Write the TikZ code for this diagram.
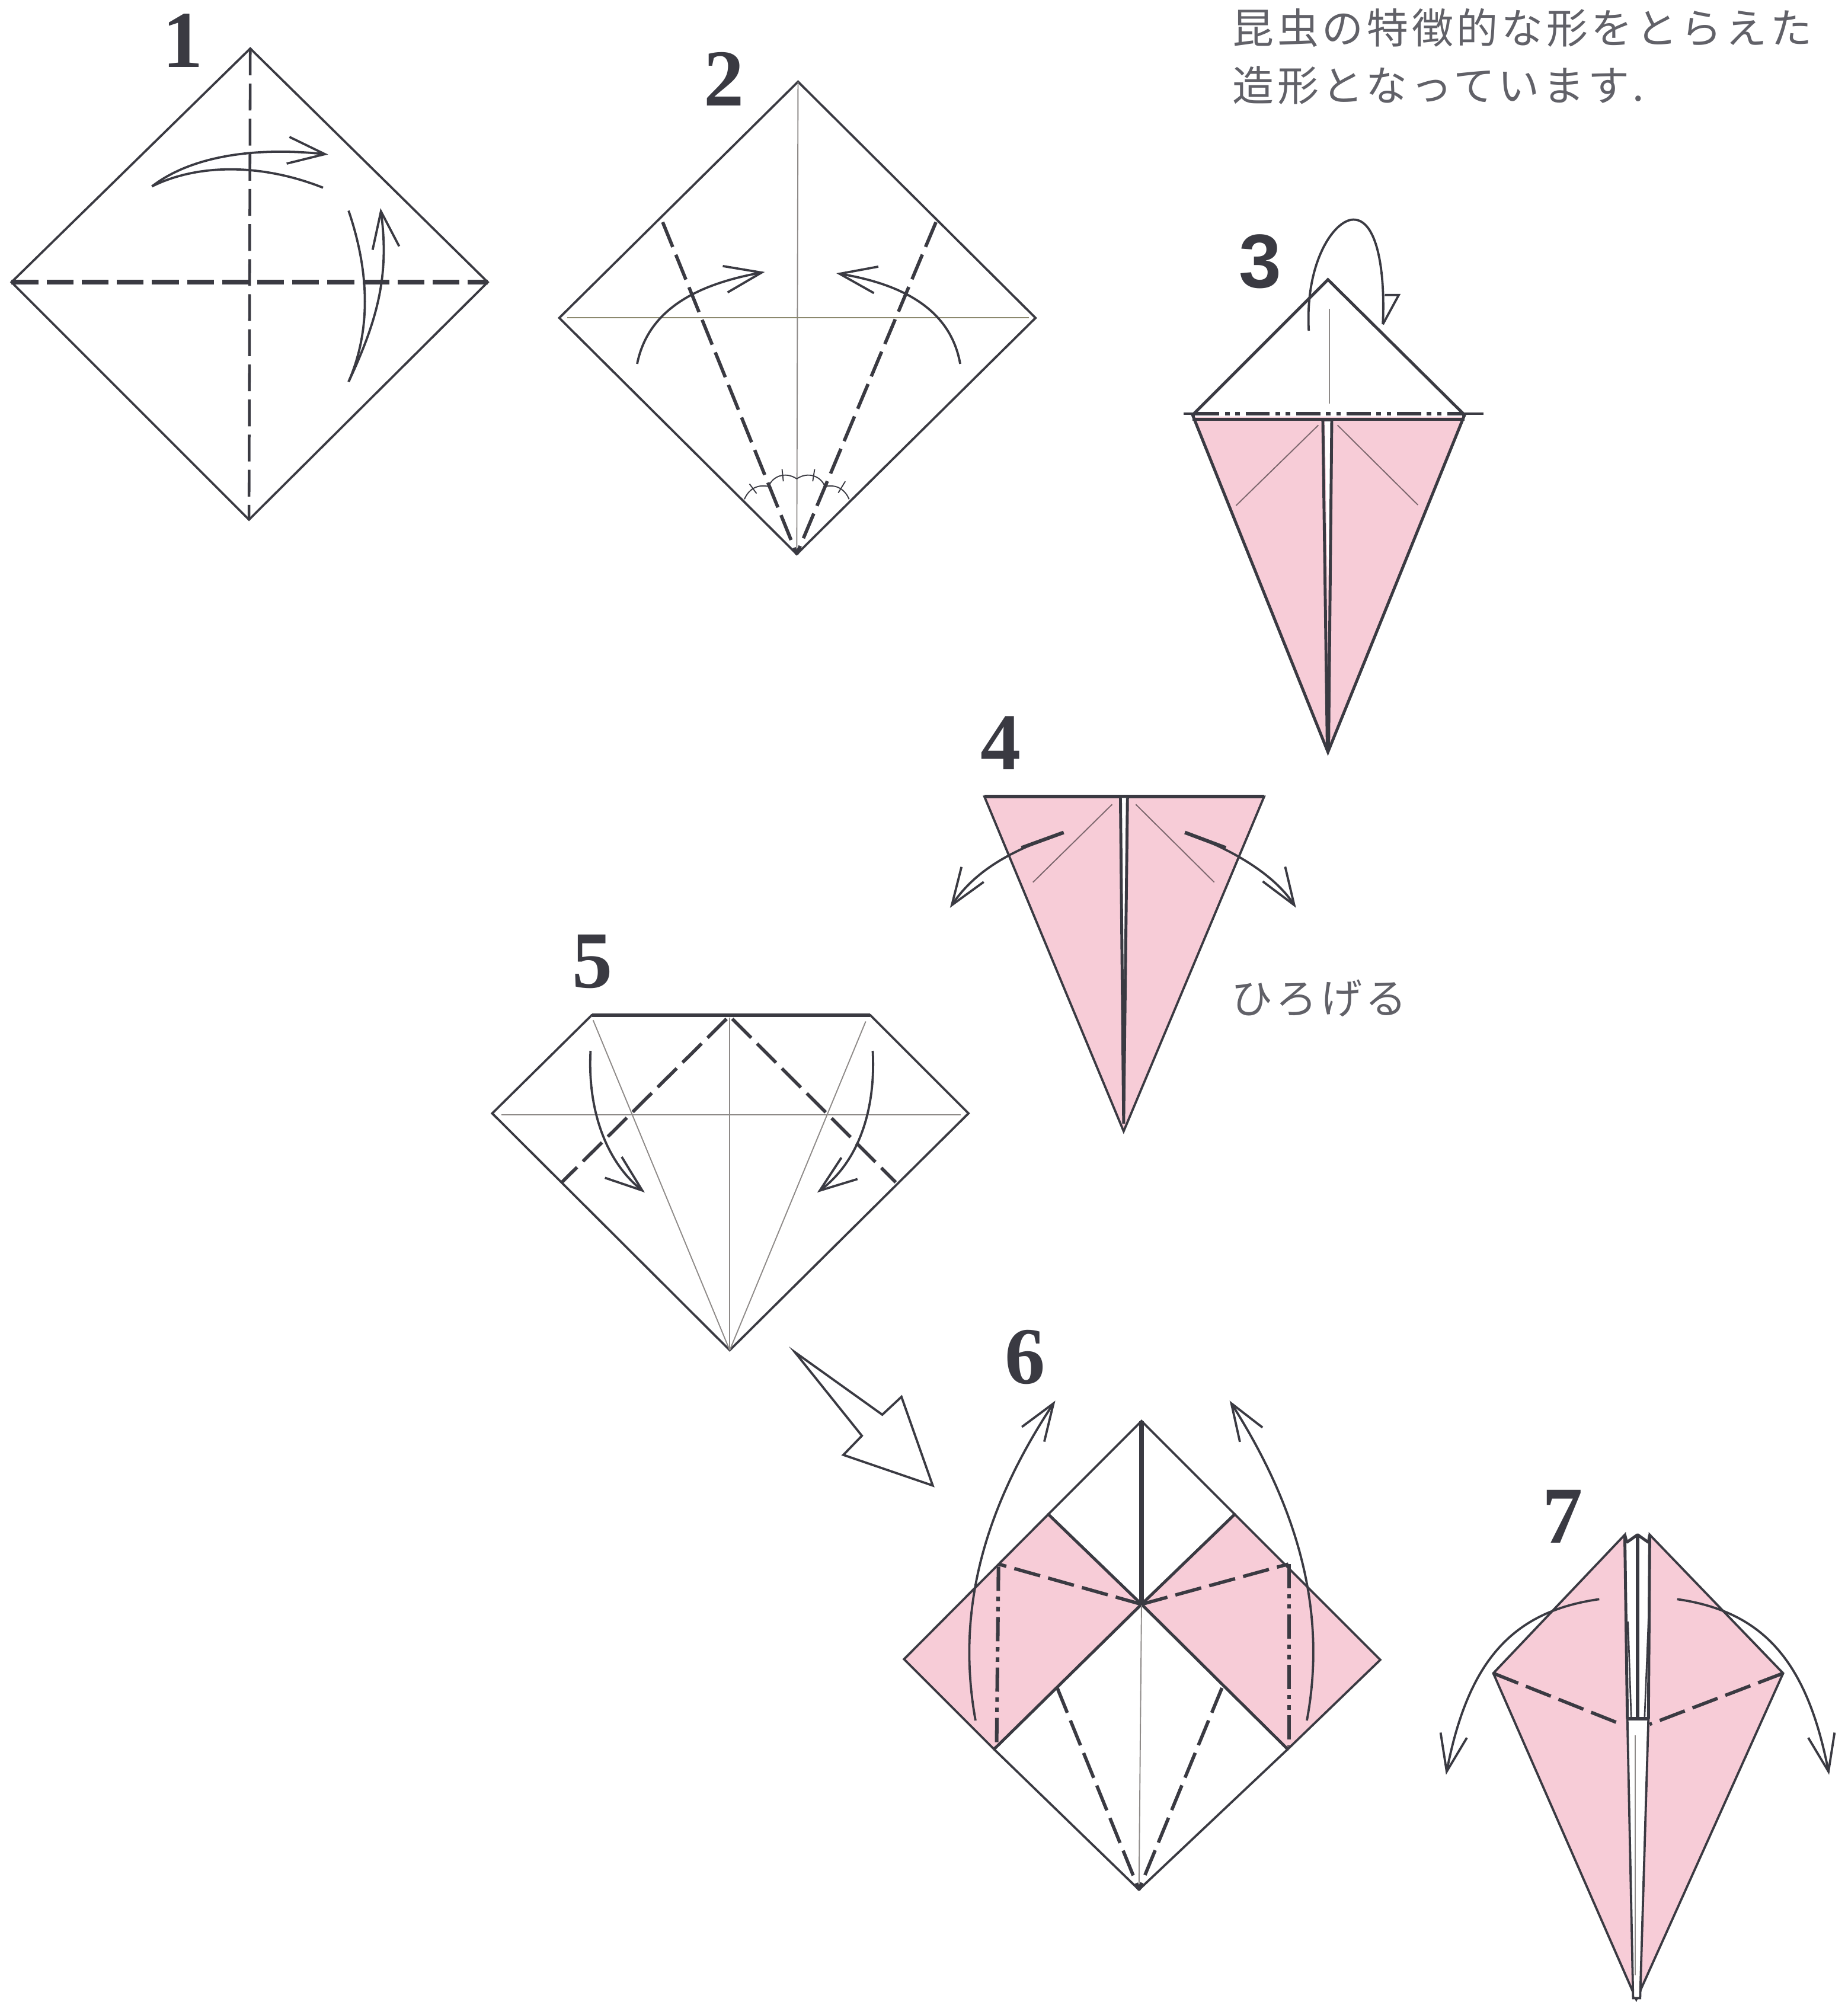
\documentclass[tikz,border=0pt]{standalone}
\usepackage{fontspec}
\usepackage{xcolor}
\usepackage{tikz}
\usetikzlibrary{arrows.meta,calc}
\setmainfont{Liberation Serif}
\newfontfamily\cjkfont[LetterSpace=8]{Noto Sans CJK JP}
\definecolor{inkline}{HTML}{3A3A42}
\definecolor{paperpink}{HTML}{F7CCD7}
\definecolor{creasegray}{HTML}{8E8A88}
\tikzset{%
  edge/.style={draw=inkline,line width=1pt,line join=miter},
  pinkface/.style={edge,fill=paperpink},
  thickline/.style={draw=inkline,line width=2pt},
  crease/.style={draw=creasegray,line width=0.5pt},
  valley/.style={draw=inkline,line width=1.5pt,dash pattern=on 0.42cm off 0.13cm},
  mountain/.style={draw=inkline,line width=1.6pt,dash pattern=on 0.38cm off 0.09cm on 0.07cm off 0.09cm on 0.07cm off 0.09cm},
  foldarrow/.style={draw=inkline,line width=1pt,-{Straight Barb[length=5.8mm,width=4.2mm,line width=1pt]}},
  returnline/.style={draw=inkline,line width=1pt},
  stepnum/.style={text=inkline,font=\fontsize{36}{36}\selectfont\bfseries,inner sep=0pt},
  caption/.style={text=inkline!80,font=\fontsize{18.5}{20}\cjkfont,inner sep=0pt,anchor=west}
}
\begin{document}
\begin{tikzpicture}[x=0.02cm,y=-0.02cm]
\useasboundingbox (0,0) rectangle (1447,1568);

% Step numbers
\node[stepnum] (numone) at (143,32) {1};
\node[stepnum] (numtwo) at (567,62) {2};
\node[stepnum,font=\fontsize{34}{34}\selectfont\sffamily\bfseries] (numthree) at (987,205) {\fontspec{Liberation Sans}3};
\node[stepnum] (numfour) at (784,582) {4};
\node[stepnum] (numfive) at (464,753) {5};
\node[stepnum] (numsix) at (803,1063) {6};
\node[stepnum] (numseven) at (1224,1188) {7};

% Captions
\node[caption] (capone) at (965,22) {昆虫の特徴的な形をとらえた};
\node[caption] (captwo) at (965,67) {造形となっています.};
\node[caption,anchor=center] (capopen) at (1033,782) {ひろげる};

% Step 1
\coordinate (a1) at (196,38);
\coordinate (a2) at (9,221);
\coordinate (a3) at (195,407);
\coordinate (a4) at (382,221);
\draw[edge] (a1) -- (a2) -- (a3) -- (a4) -- cycle;
\draw[valley,line width=1.2pt] (a1) -- (a3);
\draw[valley,line width=2pt] (a2) -- (a4);
\draw[foldarrow] (119,146) .. controls (150,122) and (200,115) .. (257,121);
\draw[returnline] (119,146) .. controls (155,128) and (205,128) .. (253,147);
\draw[foldarrow] (273,299) .. controls (296,250) and (305,215) .. (298,163);
\draw[returnline] (273,165) .. controls (290,215) and (290,260) .. (273,299);

% Step 2
\coordinate (b1) at (625,64);
\coordinate (b2) at (438,249);
\coordinate (b3) at (624,434);
\coordinate (b4) at (811,249);
\draw[edge] (b1) -- (b2) -- (b3) -- (b4) -- cycle;
\draw[crease] (b1) -- (b3);
\draw[crease,draw=creasegray!80!olive] (444,249) -- (806,249);
\draw[valley] (519,174) -- (b3);
\draw[valley] (733,174) -- (b3);
\draw[foldarrow] (499,285) .. controls (508,240) and (550,222) .. (599,213);
\draw[foldarrow] (752,285) .. controls (744,240) and (703,222) .. (655,214);
\draw[crease,draw=inkline] (583,391) .. controls (586,384) and (592,379) .. (602,381) .. controls (605,373) and (615,369) .. (624,375) .. controls (633,369) and (643,373) .. (646,381) .. controls (656,379) and (662,384) .. (665,391);
\draw[crease,draw=inkline] (587,379) -- (592.5,386.5) (612.5,367.5) -- (613.5,377) (636.5,377) -- (638,367.5) (656.5,386) -- (662,377);

% Step 3
\coordinate (c1) at (1040,219);
\coordinate (c2) at (934,325);
\coordinate (c3) at (1147,325);
\coordinate (c4) at (1040,589);
\filldraw[pinkface,line width=1.3pt] (c2) -- (c3) -- (c4) -- cycle;
\draw[crease] (1041,242) -- (1041,316);
\draw[crease,draw=paperpink!50!black] (1032.5,333) -- (968,396) (1047.5,333) -- (1110.5,395.5);
\fill[white] (1037.5,329) -- (1042.5,329) -- (1040,470) -- cycle;
\draw[edge,line width=1.3pt] (1036,329) -- (1039.5,586) (1043,329) -- (1040.5,586);
\draw[edge] (1036,329) -- (1043,329);
\fill[white] (936,321) rectangle (1145,326.5);
\draw[edge,line width=1.3pt] (c2) -- (c1) -- (c3);
\draw[edge,line width=1.3pt] (934,328.5) -- (1147,328.5);
\draw[edge] (927,324) -- (936,324) (1146,324) -- (1162,324);
\draw[mountain,line width=1.8pt] (936,324) -- (1146,324);
\draw[returnline] (1025,259) .. controls (1022,205) and (1045,172) .. (1060,172) .. controls (1078,172) and (1085,210) .. (1083,254);
\draw[returnline,line join=miter] (1083,254) -- (1095.5,231) -- (1084.5,231);

% Step 4
\coordinate (d1) at (771,624);
\coordinate (d2) at (990,624);
\coordinate (d3) at (880,886);
\filldraw[pinkface] (d1) -- (d2) -- (d3) -- cycle;
\draw[thickline,line width=1.5pt] (d1) -- (d2);
\draw[crease,draw=paperpink!50!black] (871,630) -- (809,691) (889.5,630) -- (951,691);
\fill[white] (878,625) -- (883,625) -- (880,790) -- cycle;
\draw[edge,line width=1.3pt] (877.5,625) -- (880,880) (883,625) -- (880,880);
\draw[foldarrow] (833,652) .. controls (795,665) and (765,680) .. (744,711);
\draw[thickline,line width=1.6pt] (833,652) -- (800,664);
\draw[foldarrow] (928,652) .. controls (965,665) and (998,685) .. (1015,711);
\draw[thickline,line width=1.6pt] (928,652) -- (960,664);

% Step 5
\coordinate (e1) at (463.5,795);
\coordinate (e2) at (681.5,795);
\coordinate (e3) at (758.5,872);
\coordinate (e4) at (571.5,1057.5);
\coordinate (e5) at (385.5,872);
\draw[edge] (e1) -- (e2) -- (e3) -- (e4) -- (e5) -- cycle;
\draw[thickline,line width=1.5pt] (e1) -- (e2);
\draw[crease] (392.5,873) -- (752.5,873);
\draw[crease] (571.5,797) -- (e4);
\draw[crease] (464.5,799) -- (e4) (678,800) -- (e4);
\draw[valley] (569,798) -- (440,926);
\draw[valley] (573.5,798) -- (701.5,926);
\draw[foldarrow] (462.5,823) .. controls (460,870) and (475,910) .. (505,934);
\draw[foldarrow] (683.5,823) .. controls (686,870) and (672,910) .. (640,934);

% Big arrow between steps 5 and 6
\draw[edge,line join=miter] (622.5,1059) -- (691,1108) -- (706,1094) -- (730.5,1163.5) -- (660.5,1139.5) -- (675,1124.5) -- cycle;

% Step 6
\coordinate (f1) at (894,1113);
\coordinate (f2) at (821,1186);
\coordinate (f3) at (967,1186);
\coordinate (f4) at (894,1256.5);
\coordinate (f5) at (708,1299.5);
\coordinate (f6) at (1081,1300);
\coordinate (f7) at (778.5,1370);
\coordinate (f8) at (1008.5,1370);
\coordinate (f9) at (892,1480);
\draw[edge] (f1) -- (f2) -- (f4) -- (f3) -- cycle;
\filldraw[pinkface] (f2) -- (f4) -- (f7) -- (f5) -- cycle;
\filldraw[pinkface] (f3) -- (f4) -- (f8) -- (f6) -- cycle;
\draw[edge] (f7) -- (f9) -- (f8);
\draw[edge,line width=1.3pt] (f2) -- (f4) -- (f7) (f3) -- (f4) -- (f8);
\draw[thickline] (f1) -- (f4);
\draw[crease] (f4) -- (f9);
\draw[valley] (f4) -- (782,1225);
\draw[valley] (f4) -- (1009,1225);
\draw[mountain] (782,1227) -- (780.5,1368);
\draw[mountain] (1009.5,1225) -- (1009.5,1368);
\draw[valley] (828,1322) -- (f9);
\draw[valley] (957,1322) -- (f9);
\draw[foldarrow] (764,1347.5) .. controls (750,1270) and (765,1190) .. (826.5,1097);
\draw[foldarrow] (1023.5,1347.5) .. controls (1038,1270) and (1022,1190) .. (963,1097);

% Step 7
\coordinate (g1) at (1272.5,1202);
\coordinate (g2) at (1292,1202);
\coordinate (g3) at (1396.5,1310.5);
\coordinate (g4) at (1281.5,1566);
\coordinate (g5) at (1169.5,1310.5);
\coordinate (g6) at (1282.5,1202);
\filldraw[pinkface] (g1) -- (g5) -- (g4) -- (g3) -- (g2) -- (1291,1346) -- (1274.5,1346) -- cycle;
\draw[edge,fill=white] (1274.5,1346) -- (1291,1346) -- (1284.5,1565) -- (1279,1565) -- cycle;
\draw[edge,line width=1.3pt,fill=white,line join=bevel] (g1) -- (1274.5,1346) -- (1291,1346) -- (g2) -- (1291,1208) -- (g6) -- (1274,1208) -- cycle;
\draw[thickline,line width=1.6pt] (g6) -- (1282.5,1346);
\draw[thickline,line width=1.6pt] (1274.5,1346) -- (1291,1346);
\draw[edge,line width=0.7pt] (1275,1270) -- (1277.5,1345) (1291,1270) -- (1288,1345);
\draw[crease] (1280.5,1359) -- (1280.5,1547);
\draw[valley] (g5) -- (1271,1351);
\draw[valley] (g3) -- (1292,1350.5);
\draw[foldarrow] (1252.5,1252.5) .. controls (1185,1262) and (1150,1300) .. (1132.5,1390);
\draw[foldarrow] (1313.5,1252.5) .. controls (1380,1262) and (1415,1300) .. (1432.5,1390);

\end{tikzpicture}
\end{document}
